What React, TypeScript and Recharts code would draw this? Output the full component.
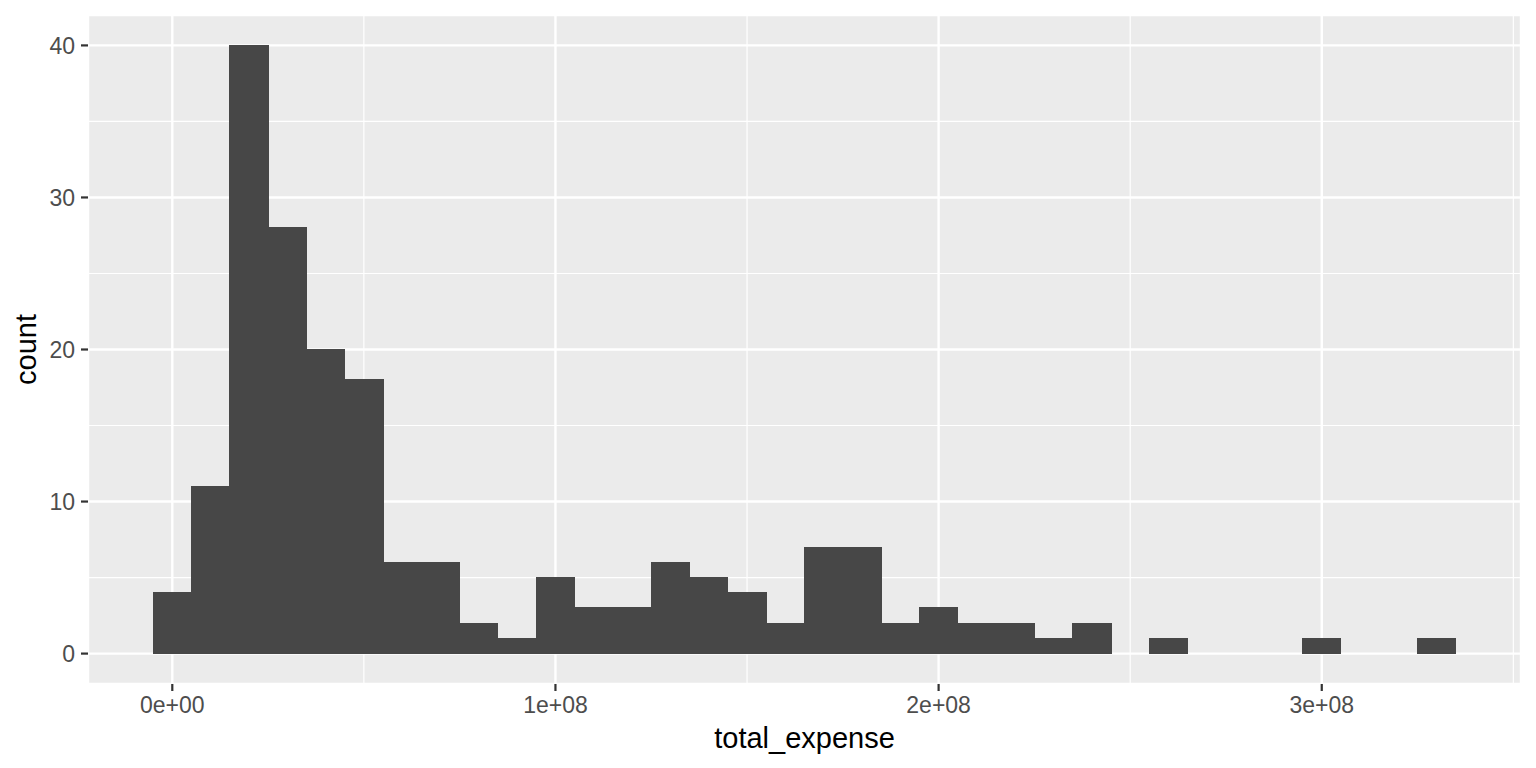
import React from "react";
import {
  ComposedChart,
  XAxis,
  YAxis,
  CartesianGrid,
  ReferenceArea,
  Label,
} from "recharts";

// histogram bins of total_expense (bin centres, width 1e7)
const binCenters = [
  0, 1e7, 2e7, 3e7, 4e7, 5e7, 6e7, 7e7, 8e7, 9e7, 10e7, 11e7, 12e7, 13e7, 14e7, 15e7, 16e7,
  17e7, 18e7, 19e7, 20e7, 21e7, 22e7, 23e7, 24e7, 25e7, 26e7, 27e7, 28e7, 29e7, 30e7, 31e7,
  32e7, 33e7,
];
const counts = [
  4, 11, 40, 28, 20, 18, 6, 6, 2, 1, 5, 3, 3, 6, 5, 4, 2, 7, 7, 2, 3, 2, 2, 1, 2, 0, 1, 0, 0, 0,
  1, 0, 0, 1,
];
const binWidth = 1e7;

const xTicks = [0, 1e8, 2e8, 3e8];
const xMinorTicks = [5e7, 1.5e8, 2.5e8, 3.5e8];
const yTicks = [0, 10, 20, 30, 40];
const yMinorTicks = [5, 15, 25, 35];

const X_DOMAIN: [number, number] = [-2.2e7, 3.52e8];
const Y_DOMAIN: [number, number] = [-2, 42];

const FONT = "'Liberation Sans', Arial, Helvetica, sans-serif";
const PANEL = "#EBEBEB";
const BAR_FILL = "#474747";

/** R-style scientific label, e.g. 1e+08 */
function sci(v: number): string {
  if (v === 0) return "0e+00";
  const exp = Math.floor(Math.log10(Math.abs(v)));
  const mant = +(v / Math.pow(10, exp)).toFixed(2);
  const sign = exp < 0 ? "-" : "+";
  return `${mant}e${sign}${String(Math.abs(exp)).padStart(2, "0")}`;
}

export default function App() {
  const bins = binCenters.map((c, i) => ({ center: c, count: counts[i] }));

  return (
    <div style={{ position: "absolute", left: 0, top: 0, fontFamily: FONT }}>
      <ComposedChart
        width={1536}
        height={768}
        margin={{ top: 15, right: 15, bottom: 0, left: 0 }}
      >
        {/* minor grid first, then major grid on top */}
        <CartesianGrid
          fill={PANEL}
          fillOpacity={1}
          stroke="#FFFFFF"
          strokeWidth={1.2}
          verticalValues={xMinorTicks}
          horizontalValues={yMinorTicks}
        />
        <CartesianGrid stroke="#FFFFFF" strokeWidth={2.4} />
        {bins
          .filter((b) => b.count > 0)
          .map((b) => (
            <ReferenceArea
              key={b.center}
              x1={b.center - binWidth / 2}
              x2={b.center + binWidth / 2}
              y1={0}
              y2={b.count}
              fill={BAR_FILL}
              fillOpacity={1}
              stroke={BAR_FILL}
              strokeWidth={1}
              strokeOpacity={1}
              shapeRendering="crispEdges"
              ifOverflow="visible"
            />
          ))}
        <XAxis
          type="number"
          dataKey="center"
          domain={X_DOMAIN}
          allowDataOverflow
          ticks={xTicks}
          interval={0}
          tickFormatter={sci}
          height={84}
          axisLine={false}
          tickSize={7}
          tickMargin={6}
          tickLine={{ stroke: "#333333", strokeWidth: 2.2 }}
          tick={{ fill: "#4D4D4D", fontSize: 23, fontFamily: FONT }}
        >
          <Label
            value="total_expense"
            position="insideBottom"
            offset={20}
            fill="#000000"
            fontSize={29}
            fontFamily={FONT}
          />
        </XAxis>
        <YAxis
          type="number"
          domain={Y_DOMAIN}
          allowDataOverflow
          ticks={yTicks}
          interval={0}
          width={88}
          axisLine={false}
          tickSize={7}
          tickMargin={6}
          tickLine={{ stroke: "#333333", strokeWidth: 2.2 }}
          tick={{ fill: "#4D4D4D", fontSize: 23, fontFamily: FONT }}
        >
          <Label
            content={({ viewBox }: any) => {
              const cy = viewBox.y + viewBox.height / 2;
              const bx = viewBox.x + 36;
              return (
                <text
                  x={bx}
                  y={cy}
                  transform={`rotate(-90, ${bx}, ${cy})`}
                  textAnchor="middle"
                  fill="#000000"
                  fontSize={29}
                  fontFamily={FONT}
                >
                  count
                </text>
              );
            }}
          />
        </YAxis>
      </ComposedChart>
    </div>
  );
}
